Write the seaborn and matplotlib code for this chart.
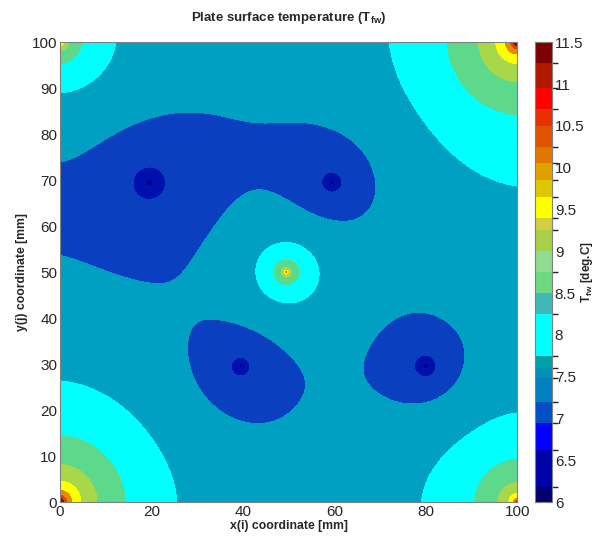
import numpy as np
import matplotlib
matplotlib.use("Agg")
import matplotlib.pyplot as plt
from matplotlib.colors import ListedColormap, BoundaryNorm
from matplotlib.cm import ScalarMappable
from matplotlib.ticker import FormatStrFormatter
import seaborn as sns

# Heat sources (corners, centre) and sinks (cooling points) on the plate [mm]
src_x = [0.0, 100.0, 0.0, 100.0, 49.5, 19.5, 59.5, 39.5, 80.0]
src_y = [0.0, 100.0, 100.0, 0.0, 50.0, 69.5, 69.5, 29.5, 29.5]
src_L0 = [41.0, 53.0, 46.0, 58.0, 26.0, 40.0, 32.0, 30.0, 30.0]   # initial reach [mm]

# Measured isotherm crossing points: x [mm], y [mm], temperature [deg.C], weight
iso_x = [16.2, 22.8, 19.5, 19.5, 57.3, 61.7, 59.5, 59.5, 37.5, 41.5, 39.5, 39.5,
         77.8, 82.2, 80.0, 80.0,
         20.2, 60.0, 40.0, 80.5,
         0.0, 10.0, 20.0, 29.5, 35.0, 39.0, 43.0, 46.0, 49.0, 52.5, 61.0, 68.0, 70.5,
         68.0, 62.0, 53.0, 48.0, 44.0, 40.0, 33.0, 25.0, 15.0, 8.0, 0.0,
         27.0, 32.0, 38.0, 44.0, 48.0, 51.0, 47.0, 40.0, 33.0, 28.0,
         63.0, 70.0, 78.0, 84.0, 87.0, 88.0, 85.0, 80.0, 75.0, 70.0, 65.0,
         42.5, 56.5, 49.5, 49.5, 47.1, 51.9, 50.2,
         26.5, 0.0, 19.0, 14.2, 0.0, 10.0, 7.2, 0.0, 4.4, 2.6, 1.5, 0.8,
         71.0, 100.0, 80.0, 83.4, 100.0, 90.8, 100.0, 95.0, 97.6, 98.8, 99.4,
         12.3, 0.0, 8.5, 4.8, 0.0, 1.2,
         81.0, 100.0, 86.0, 91.3, 100.0, 96.7, 100.0, 98.5, 99.3,
         50.0, 85.0, 12.0, 60.0, 30.0, 40.0]
iso_y = [69.5, 69.5, 72.8, 66.2, 69.5, 69.5, 71.7, 67.3, 29.5, 29.5, 31.5, 27.5,
         29.5, 29.5, 31.7, 27.3,
         69.5, 69.5, 29.5, 29.5,
         53.0, 52.0, 51.0, 52.0, 57.0, 65.0, 70.5, 70.5, 66.5, 63.5, 62.4, 65.6, 70.5,
         76.5, 81.3, 82.0, 80.0, 79.8, 81.0, 84.0, 84.5, 83.0, 79.0, 75.0,
         37.0, 40.5, 39.5, 35.0, 28.0, 20.0, 16.5, 17.0, 21.0, 28.0,
         18.0, 17.0, 17.0, 21.0, 28.0, 36.0, 43.0, 44.0, 40.0, 33.0, 25.0,
         50.0, 50.0, 57.0, 43.0, 50.0, 50.0, 50.0,
         0.0, 27.0, 19.0, 0.0, 14.2, 10.0, 0.0, 7.2, 0.0, 0.0, 0.0, 0.0,
         100.0, 68.5, 82.0, 100.0, 83.4, 100.0, 90.8, 100.0, 100.0, 100.0, 100.0,
         100.0, 88.5, 91.5, 100.0, 95.2, 100.0,
         0.0, 23.0, 15.0, 0.0, 8.7, 0.0, 3.3, 0.0, 0.0,
         92.0, 55.0, 40.0, 12.0, 70.0, 75.0]
iso_t = [7.0] * 16 + [6.5] * 4 + [7.5] * 24 + [7.5] * 10 + [7.5] * 11 + \
        [8.0] * 4 + [8.5] * 2 + [9.0] + \
        [8.0] * 3 + [8.5] * 3 + [9.0] * 2 + [9.5, 10.0, 10.5, 11.0] + \
        [8.0] * 3 + [8.5] * 2 + [9.0] * 2 + [9.5, 10.0, 10.5, 11.0] + \
        [8.0] * 3 + [8.5] * 2 + [9.0] + \
        [8.0] * 3 + [8.5] * 2 + [9.0] * 2 + [9.5, 10.0] + \
        [7.75] * 4 + [7.25] * 2
iso_w = [1.5] * 16 + [0.5] * 4 + [3.0] * 45 + \
        [2.0] * 4 + [1.0] * 2 + [0.5] + \
        [2.0] * 3 + [1.5] * 3 + [0.7] * 2 + [0.4] * 4 + \
        [2.0] * 3 + [1.5] * 2 + [0.7] * 2 + [0.4] * 4 + \
        [2.0] * 3 + [1.5] * 2 + [0.5] + \
        [3.0, 5.0, 4.0] + [1.5] * 2 + [0.7] * 2 + [0.4] * 2 + \
        [1.0] * 4 + [1.0] * 2

# Filled contour levels and the colour of each band
levels = [6.0, 6.5, 7.0, 7.5, 8.0, 8.5, 9.0, 9.5, 10.0, 10.5, 11.0, 11.5]
level_colors = ["#000088", "#0010AC", "#0A40C0", "#00A0C2", "#00FFFF", "#5CD98A",
                "#A8D84A", "#FFFF00", "#E58A00", "#E04010", "#A00000"]

# Colour bar segments
cbar_bounds = [6.0, 6.18, 6.62, 6.95, 7.2, 7.48, 7.6, 7.75, 8.25, 8.5, 8.75, 9.0,
               9.25, 9.4, 9.65, 9.85, 10.05, 10.25, 10.5, 10.7, 10.95, 11.25, 11.5]
cbar_colors = ["#000070", "#0000A8", "#0000FF", "#0050C4", "#0080C0", "#0090B4",
               "#00A0A8", "#00FFFF", "#40B8B8", "#70D880", "#90DC90", "#A8D048",
               "#D0D040", "#FFFF00", "#E0C800", "#E0A000", "#E07800", "#E05400",
               "#E83000", "#FF0000", "#B01800", "#7F0000"]

ticks_x = [0, 20, 40, 60, 80, 100]
ticks_y = [0, 10, 20, 30, 40, 50, 60, 70, 80, 90, 100]
cbar_ticks = [6, 6.5, 7, 7.5, 8, 8.5, 9, 9.5, 10, 10.5, 11, 11.5]


def source_kernel(px, py, sx, sy, L):
    """Logarithmic point-source profile with mirror images at the insulated edges."""
    pts = [(sx, sy)]
    if sx > 1e-9:
        pts.append((-sx, sy))
    if sx < 100 - 1e-9:
        pts.append((200 - sx, sy))
    if sy > 1e-9:
        pts.append((sx, -sy))
    if sy < 100 - 1e-9:
        pts.append((sx, 200 - sy))
    out = 0.0
    for ix, iy in pts:
        r2 = (px - ix) ** 2 + (py - iy) ** 2 + 0.01
        out = out + 0.5 * np.log1p(L * L / r2)
    return out


px = np.array(iso_x)
py = np.array(iso_y)
pt = np.array(iso_t)
pw = np.array(iso_w)


def solve_strengths(Ls):
    A = np.column_stack([np.ones_like(px)] +
                        [source_kernel(px, py, sx, sy, L)
                         for sx, sy, L in zip(src_x, src_y, Ls)])
    coef, *_ = np.linalg.lstsq(A * pw[:, None], pt * pw, rcond=None)
    err = np.sum(((A @ coef - pt) * pw) ** 2)
    return coef, err


# Source strengths by least squares, reach by a short coordinate search
Ls = list(src_L0)
coef, best = solve_strengths(Ls)
for sweep in range(8):
    for i in range(len(Ls)):
        for f in (0.7, 0.85, 0.93, 1.07, 1.18, 1.4):
            trial = list(Ls)
            trial[i] = min(max(Ls[i] * f, 4.0), 150.0)
            c, e = solve_strengths(trial)
            if e < best:
                best, coef, Ls = e, c, trial

base_temp = coef[0]
src_q = coef[1:]

g = np.linspace(0, 100, 401)
X, Y = np.meshgrid(g, g)
T = np.full_like(X, base_temp)
for sx, sy, q, L in zip(src_x, src_y, src_q, Ls):
    T += q * source_kernel(X, Y, sx, sy, L)
T = np.clip(T, 6.001, 11.49)

sns.set_theme(style="white")
plt.rcParams["font.family"] = ["Liberation Sans", "DejaVu Sans"]
plt.rcParams["mathtext.fontset"] = "custom"
plt.rcParams["mathtext.rm"] = "Liberation Sans:bold"
plt.rcParams["mathtext.it"] = "Liberation Sans:bold"
plt.rcParams["mathtext.bf"] = "Liberation Sans:bold"

fig = plt.figure(figsize=(6.0, 5.39), dpi=100)
ax = fig.add_axes([0.1, 0.0686, 0.762, 0.853])
ax.contourf(X, Y, T, levels=levels, colors=level_colors)
ax.set_xlim(0, 100)
ax.set_ylim(0, 100)
ax.set_xticks(ticks_x)
ax.set_yticks(ticks_y)
ax.tick_params(direction="in", length=4, width=0.8, color="#404040",
               labelsize=11, labelcolor="#262626", pad=2)
for s in ax.spines.values():
    s.set_color("#808080")
    s.set_linewidth(0.8)
ax.set_xlabel("x(i) coordinate [mm]", fontsize=8.8, fontweight="bold", labelpad=1)
ax.set_ylabel("y(j) coordinate [mm]", fontsize=8.8, fontweight="bold", labelpad=3)
ax.set_title("Plate surface temperature (T$_{fw}$)", fontsize=9.5, fontweight="bold", pad=15)

cax = fig.add_axes([0.892, 0.0686, 0.028, 0.853])
sm = ScalarMappable(norm=BoundaryNorm(cbar_bounds, len(cbar_colors)),
                    cmap=ListedColormap(cbar_colors))
cb = fig.colorbar(sm, cax=cax, ticks=cbar_ticks, spacing="proportional")
cb.ax.yaxis.set_major_formatter(FormatStrFormatter("%g"))
cb.ax.tick_params(direction="in", length=4, width=0.8, color="#404040",
                  labelsize=11, labelcolor="#262626", left=True, right=True, pad=2)
cb.outline.set_edgecolor("#808080")
cb.outline.set_linewidth(0.8)
cb.set_label("T$_{fw}$ [deg.C]", fontsize=8.5, fontweight="bold")
cb.ax.yaxis.set_label_coords(2.6, 0.5)

fig.savefig("out.png", dpi=100)
